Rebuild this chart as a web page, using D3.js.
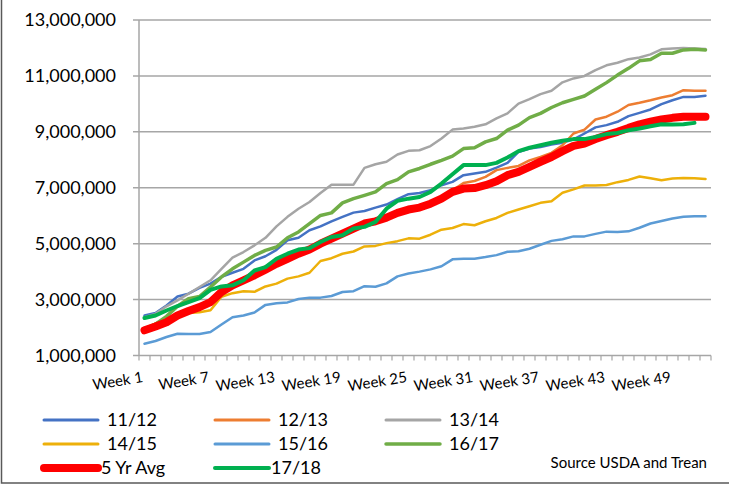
<!DOCTYPE html>
<html lang="en">
<head>
<meta charset="utf-8">
<title>Weekly cumulative exports</title>
<script src="https://d3js.org/d3.v7.min.js"></script>
<style>
  body { margin: 0; background: #fff; }
  svg { display: block; font-family: Lato, "Open Sans", sans-serif; }
</style>
</head>
<body>
<script>
// values in millions
var weeks = d3.range(1, 53).map(function(i) { return "Week " + i; });
var yTicks = [1, 3, 5, 7, 9, 11, 13];

var s1112 = [2.43,2.52,2.79,3.11,3.21,3.42,3.57,3.81,3.96,4.10,4.40,4.55,4.78,5.12,5.21,5.48,5.62,5.80,5.96,6.11,6.17,6.29,6.40,6.59,6.77,6.81,6.91,7.09,7.21,7.45,7.51,7.57,7.72,7.89,8.28,8.40,8.46,8.55,8.61,8.73,8.94,9.16,9.24,9.36,9.56,9.68,9.80,9.99,10.13,10.25,10.25,10.29];
var s1213 = [1.92,2.06,2.22,2.45,2.62,2.76,2.95,3.30,3.53,3.70,3.88,4.08,4.30,4.48,4.66,4.82,5.03,5.22,5.40,5.58,5.75,5.83,5.95,6.12,6.22,6.30,6.45,6.66,6.91,7.17,7.24,7.39,7.63,7.71,7.78,7.98,8.10,8.25,8.52,8.94,9.08,9.44,9.54,9.72,9.96,10.04,10.13,10.23,10.31,10.49,10.47,10.47];
var s1314 = [2.37,2.49,2.76,2.97,3.21,3.45,3.69,4.10,4.50,4.70,4.94,5.21,5.62,5.96,6.25,6.49,6.81,7.11,7.11,7.11,7.71,7.84,7.93,8.19,8.32,8.34,8.49,8.76,9.08,9.12,9.18,9.27,9.48,9.66,10.01,10.17,10.35,10.47,10.77,10.91,11.00,11.21,11.38,11.47,11.60,11.66,11.77,11.95,11.98,12.00,11.98,11.96];
var s1415 = [1.95,2.15,2.30,2.45,2.52,2.55,2.62,3.10,3.23,3.30,3.28,3.47,3.57,3.75,3.83,3.96,4.38,4.48,4.64,4.72,4.90,4.92,5.02,5.09,5.19,5.18,5.32,5.50,5.56,5.70,5.66,5.80,5.92,6.10,6.22,6.34,6.46,6.52,6.82,6.94,7.08,7.08,7.10,7.20,7.28,7.40,7.34,7.27,7.33,7.35,7.34,7.31];
var s1516 = [1.42,1.52,1.66,1.78,1.77,1.77,1.84,2.11,2.37,2.43,2.54,2.81,2.87,2.90,3.02,3.07,3.07,3.13,3.27,3.30,3.48,3.46,3.58,3.83,3.93,4.00,4.08,4.19,4.44,4.46,4.46,4.52,4.59,4.71,4.73,4.82,4.96,5.10,5.16,5.26,5.26,5.35,5.43,5.42,5.44,5.57,5.72,5.81,5.90,5.96,5.98,5.98];
var s1617 = [1.95,2.12,2.40,2.76,3.03,3.11,3.45,3.81,4.10,4.34,4.58,4.76,4.88,5.21,5.42,5.72,6.01,6.10,6.46,6.61,6.73,6.85,7.15,7.29,7.57,7.69,7.84,7.98,8.13,8.40,8.43,8.64,8.76,9.06,9.24,9.51,9.66,9.87,10.04,10.16,10.28,10.52,10.76,11.03,11.27,11.54,11.59,11.81,11.81,11.93,11.95,11.93];
var avg5 = [1.90,2.04,2.19,2.43,2.59,2.73,2.91,3.27,3.51,3.69,3.87,4.07,4.28,4.46,4.64,4.79,5.00,5.18,5.36,5.54,5.72,5.80,5.93,6.10,6.22,6.29,6.43,6.61,6.85,6.97,6.99,7.09,7.23,7.45,7.57,7.75,7.93,8.10,8.31,8.50,8.58,8.74,8.88,9.00,9.14,9.27,9.36,9.44,9.50,9.54,9.54,9.54];
var s1718 = [2.34,2.43,2.61,2.77,2.91,3.05,3.35,3.47,3.51,3.69,4.04,4.16,4.46,4.64,4.79,4.84,5.06,5.24,5.30,5.54,5.60,5.78,6.25,6.53,6.61,6.67,6.85,7.15,7.48,7.81,7.81,7.81,7.89,8.08,8.31,8.43,8.52,8.61,8.68,8.74,8.74,8.82,8.92,8.96,9.06,9.12,9.20,9.27,9.26,9.27,9.32];

var series = [
  {name: "11/12", values: s1112, color: "#4472C4", w: 2.5},
  {name: "12/13", values: s1213, color: "#ED7D31", w: 2.5},
  {name: "13/14", values: s1314, color: "#A5A5A5", w: 2.5},
  {name: "14/15", values: s1415, color: "#EDB00A", w: 2.5},
  {name: "15/16", values: s1516, color: "#5B9BD5", w: 2.5},
  {name: "16/17", values: s1617, color: "#70AD47", w: 3.5},
  {name: "5 Yr Avg", values: avg5, color: "#FF0000", w: 8},
  {name: "17/18", values: s1718, color: "#00B050", w: 4}
];

var width = 729, height = 487;
var plotLeft = 139, plotRight = 711, plotTop = 20, plotBottom = 355.5;

var svg = d3.select("body").append("svg")
    .attr("width", width)
    .attr("height", height);

var x = d3.scaleBand().domain(weeks).range([plotLeft, plotRight]).padding(0);
var y = d3.scaleLinear().domain([1, 13]).range([plotBottom, plotTop]);
var fmt = d3.format(",");

// gridlines + y labels
svg.append("g").selectAll("line")
    .data(yTicks)
    .enter().append("line")
    .attr("x1", plotLeft - 6).attr("x2", plotRight)
    .attr("y1", function(d) { return y(d); })
    .attr("y2", function(d) { return y(d); })
    .attr("stroke", "#a6a6a6")
    .attr("stroke-width", 1.5);

svg.append("g").selectAll("text")
    .data(yTicks)
    .enter().append("text")
    .attr("x", 116)
    .attr("y", function(d) { return y(d); })
    .attr("dy", "0.36em")
    .attr("text-anchor", "end")
    .attr("font-size", 18)
    .attr("fill", "#000")
    .text(function(d) { return fmt(d * 1e6); });

// y axis line
svg.append("line")
    .attr("x1", plotLeft).attr("x2", plotLeft)
    .attr("y1", plotTop).attr("y2", plotBottom)
    .attr("stroke", "#a6a6a6").attr("stroke-width", 1.5);

// x tick marks between categories
var tickXs = weeks.map(function(w) { return x(w); }).concat([plotRight]);
svg.append("g").selectAll("line")
    .data(tickXs)
    .enter().append("line")
    .attr("x1", function(d) { return d; })
    .attr("x2", function(d) { return d; })
    .attr("y1", plotBottom).attr("y2", plotBottom + 5)
    .attr("stroke", "#a6a6a6").attr("stroke-width", 1.2);

// x labels every 6 weeks
svg.append("g").selectAll("text")
    .data(weeks.filter(function(w, i) { return i % 6 === 0; }))
    .enter().append("text")
    .attr("transform", function(d) {
        return "translate(" + (x(d) + x.bandwidth() / 2 - 1) + "," + 382 + ") rotate(-9)";
    })
    .attr("text-anchor", "end")
    .attr("font-size", 15)
    .text(function(d) { return d; });

// lines
var line = d3.line()
    .x(function(d, i) { return x(weeks[i]) + x.bandwidth() / 2; })
    .y(function(d) { return y(d); });

svg.append("g").selectAll("path")
    .data(series)
    .enter().append("path")
    .attr("d", function(d) { return line(d.values); })
    .attr("fill", "none")
    .attr("stroke", function(d) { return d.color; })
    .attr("stroke-width", function(d) { return d.w; })
    .attr("stroke-linejoin", "round")
    .attr("stroke-linecap", "round");

// legend
var legendPos = [
  {sx: 44, tx: 107, y: 420}, {sx: 215, tx: 278, y: 420}, {sx: 386, tx: 449, y: 420},
  {sx: 44, tx: 107, y: 444}, {sx: 215, tx: 278, y: 444}, {sx: 386, tx: 449, y: 444},
  {sx: 44, tx: 101, y: 468}, {sx: 215, tx: 271, y: 468}
];

var leg = svg.append("g").selectAll("g")
    .data(series)
    .enter().append("g");

leg.append("line")
    .attr("x1", function(d, i) { return legendPos[i].sx; })
    .attr("x2", function(d, i) { return legendPos[i].sx + 54; })
    .attr("y1", function(d, i) { return legendPos[i].y; })
    .attr("y2", function(d, i) { return legendPos[i].y; })
    .attr("stroke", function(d) { return d.color; })
    .attr("stroke-width", function(d) { return d.w < 3 ? 3 : d.w; })
    .attr("stroke-linecap", "round");

leg.append("text")
    .attr("x", function(d, i) { return legendPos[i].tx; })
    .attr("y", function(d, i) { return legendPos[i].y; })
    .attr("dy", "0.36em")
    .attr("font-size", 18)
    .text(function(d) { return d.name; });

svg.append("text")
    .attr("x", 707).attr("y", 468)
    .attr("text-anchor", "end")
    .attr("font-size", 15)
    .text("Source USDA and Trean");

// frame (left and bottom edges visible)
svg.append("path")
    .attr("d", "M1.5,0 V483 H" + width)
    .attr("fill", "none")
    .attr("stroke", "#595959")
    .attr("stroke-width", 1.5);
</script>
</body>
</html>
